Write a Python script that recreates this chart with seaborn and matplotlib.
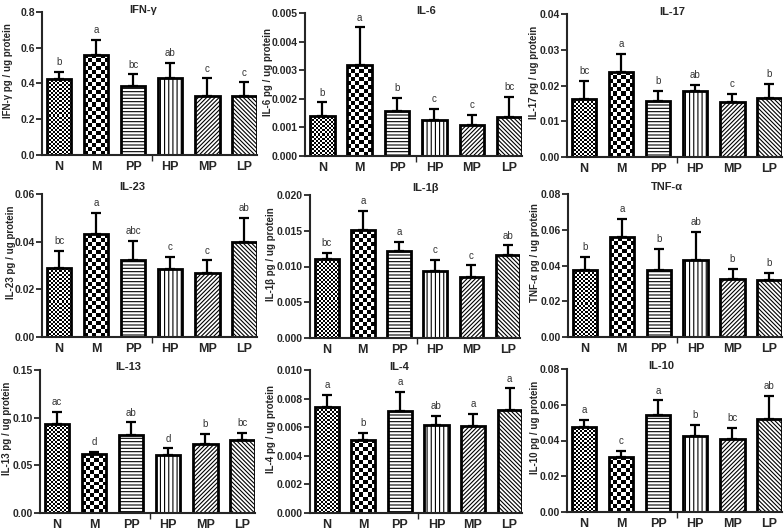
import numpy as np
import matplotlib
matplotlib.use('Agg')
import matplotlib.pyplot as plt
import seaborn as sns
from matplotlib.ticker import FormatStrFormatter

groups = ['N', 'M', 'PP', 'HP', 'MP', 'LP']

ifng_mean = [0.426, 0.560, 0.387, 0.429, 0.330, 0.330]
ifng_err = [0.038, 0.084, 0.064, 0.088, 0.099, 0.077]
ifng_letters = ['b', 'a', 'bc', 'ab', 'c', 'c']

il6_mean = [0.00141, 0.00317, 0.00159, 0.00125, 0.00109, 0.00137]
il6_err = [0.00047, 0.00133, 0.00045, 0.00039, 0.00035, 0.00070]
il6_letters = ['b', 'a', 'b', 'c', 'c', 'bc']

il17_mean = [0.0162, 0.0239, 0.0157, 0.0184, 0.0154, 0.0166]
il17_err = [0.0051, 0.0050, 0.0029, 0.0017, 0.0023, 0.0038]
il17_letters = ['bc', 'a', 'b', 'ab', 'c', 'b']

il23_mean = [0.0289, 0.0432, 0.0324, 0.0286, 0.0269, 0.0400]
il23_err = [0.0072, 0.0089, 0.0080, 0.0049, 0.0052, 0.0100]
il23_letters = ['bc', 'a', 'abc', 'c', 'c', 'ab']

il1b_mean = [0.0110, 0.0151, 0.0121, 0.00935, 0.0085, 0.01154]
il1b_err = [0.0009, 0.0027, 0.00136, 0.00158, 0.00164, 0.0014]
il1b_letters = ['bc', 'a', 'a', 'c', 'c', 'ab']

tnfa_mean = [0.0374, 0.0557, 0.0374, 0.0433, 0.0322, 0.0319]
tnfa_err = [0.0074, 0.0102, 0.0120, 0.0154, 0.0058, 0.0038]
tnfa_letters = ['b', 'a', 'b', 'ab', 'b', 'b']

il13_mean = [0.0938, 0.0618, 0.0823, 0.0604, 0.0722, 0.0767]
il13_err = [0.0125, 0.0024, 0.0128, 0.0073, 0.0111, 0.0077]
il13_letters = ['ac', 'd', 'ab', 'd', 'b', 'bc']

il4_mean = [0.0074, 0.00512, 0.00714, 0.00616, 0.00609, 0.00719]
il4_err = [0.00088, 0.00048, 0.00133, 0.00063, 0.00082, 0.00153]
il4_letters = ['a', 'b', 'a', 'ab', 'a', 'a']

il10_mean = [0.0477, 0.0309, 0.0542, 0.0425, 0.0410, 0.0518]
il10_err = [0.0039, 0.0034, 0.0082, 0.0063, 0.0062, 0.0132]
il10_letters = ['a', 'c', 'a', 'b', 'bc', 'ab']

# name, mean, err, letters, ymax, ystep, tick format
panels = [
    ('IFN-γ', ifng_mean, ifng_err, ifng_letters, 0.8, 0.2, '%.1f'),
    ('IL-6', il6_mean, il6_err, il6_letters, 0.005, 0.001, '%.3f'),
    ('IL-17', il17_mean, il17_err, il17_letters, 0.04, 0.01, '%.2f'),
    ('IL-23', il23_mean, il23_err, il23_letters, 0.06, 0.02, '%.2f'),
    ('IL-1β', il1b_mean, il1b_err, il1b_letters, 0.020, 0.005, '%.3f'),
    ('TNF-α', tnfa_mean, tnfa_err, tnfa_letters, 0.08, 0.02, '%.2f'),
    ('IL-13', il13_mean, il13_err, il13_letters, 0.15, 0.05, '%.2f'),
    ('IL-4', il4_mean, il4_err, il4_letters, 0.010, 0.002, '%.3f'),
    ('IL-10', il10_mean, il10_err, il10_letters, 0.08, 0.02, '%.2f'),
]

# layout in pixels (left, top, width) per panel, height shared
W, H = 784, 531
boxes = [(42, 12, 215), (305, 13, 217), (567, 14, 215),
         (42, 194, 215), (310, 195, 210), (568, 194, 214),
         (40, 370, 215), (310, 370, 212), (567, 369, 215)]
ax_h = 143
ylabel_off = [34, 37, 33, 31, 39, 33, 33, 39, 32]   # label centre, px left of axis
title_x = [0.47, 0.56, 0.49, 0.42, 0.55, 0.46, 0.41, 0.42, 0.44]
title_y = [1.015, 1.015, 1.015, 1.05, 1.05, 1.05, 1.02, 1.02, 1.02]

# fill style per group: checker cell size in px, or hatch
fills = {'N': ('check', 2), 'M': ('check', 4), 'PP': ('hatch', '-----'),
         'HP': ('hatch', '||||'), 'MP': ('hatch', '////////'), 'LP': ('hatch', '\\\\\\\\\\\\\\\\')}

sns.set_theme(style='ticks')
plt.rcParams['font.family'] = ['Liberation Sans', 'DejaVu Sans']
plt.rcParams['font.weight'] = 'bold'
plt.rcParams['axes.labelweight'] = 'bold'
plt.rcParams['hatch.linewidth'] = 0.8
plt.rcParams['hatch.color'] = 'black'


def checker_fill(ax, bar, cell):
    x0, y0 = bar.get_x(), bar.get_y()
    w, h = bar.get_width(), bar.get_height()
    (px0, py0), (px1, py1) = ax.transData.transform([(x0, y0), (x0 + w, y0 + h)])
    nx = max(1, int(round((px1 - px0) / cell)))
    ny = max(1, int(round((py1 - py0) / cell)))
    img = np.indices((ny, nx)).sum(axis=0) % 2
    im = ax.imshow(img, cmap='gray', vmin=0, vmax=1, extent=(x0, x0 + w, y0, y0 + h),
                   aspect='auto', interpolation='nearest', origin='lower', zorder=1)
    im.set_clip_path(bar)


fig = plt.figure(figsize=(W / 100, H / 100), dpi=100)

for i, (name, mean, err, letters, ymax, ystep, fmt) in enumerate(panels):
    left, top, width = boxes[i]
    ax = fig.add_axes([left / W, 1 - (top + ax_h) / H, width / W, ax_h / H])
    sns.barplot(x=groups, y=mean, ax=ax, color='white', width=0.66,
                edgecolor='black', linewidth=2.0, errorbar=None, zorder=2)
    ax.set_xlim(-0.46, 5.34)
    ax.set_ylim(0, ymax)

    bars = ax.patches[:len(groups)]
    xs = [b.get_x() + b.get_width() / 2 for b in bars]
    for g, b in zip(groups, bars):
        kind, val = fills[g]
        if kind == 'check':
            b.set_facecolor('none')
            checker_fill(ax, b, val)
        else:
            b.set_hatch(val)

    ax.errorbar(xs, mean, yerr=[np.zeros(len(err)), err], fmt='none', ecolor='black',
                elinewidth=1.6, capsize=3.5, capthick=1.6, zorder=3)
    for x, m, e, lt in zip(xs, mean, err, letters):
        ax.annotate(lt, (x, m + e), xytext=(0, 7), textcoords='offset points',
                    ha='center', va='center', fontsize=7, fontweight='normal', color='#333333')

    ax.set_xlim(-0.46, 5.34)
    ax.set_ylim(0, ymax)
    ax.set_yticks(np.arange(0, ymax + ystep / 2, ystep))
    ax.yaxis.set_major_formatter(FormatStrFormatter(fmt))
    ax.set_xticks([2.5], minor=True)

    sns.despine(ax=ax)
    for s in ['left', 'bottom']:
        ax.spines[s].set_linewidth(1.5)
    ax.tick_params(axis='y', length=4, width=1.3, labelsize=7.5, pad=1)
    ax.tick_params(axis='x', which='major', length=0, labelsize=9, pad=4)
    ax.tick_params(axis='x', which='minor', length=4, width=1.0, direction='out')

    ax.set_ylabel(f'{name} pg / ug protein', fontsize=7, va='center')
    ax.yaxis.set_label_coords(-ylabel_off[i] / width, 0.59)
    ax.set_xlabel('')
    ax.text(title_x[i], title_y[i], name, transform=ax.transAxes, ha='center',
            va='center', fontsize=8, fontweight='bold')

fig.savefig('out.png', dpi=100)
